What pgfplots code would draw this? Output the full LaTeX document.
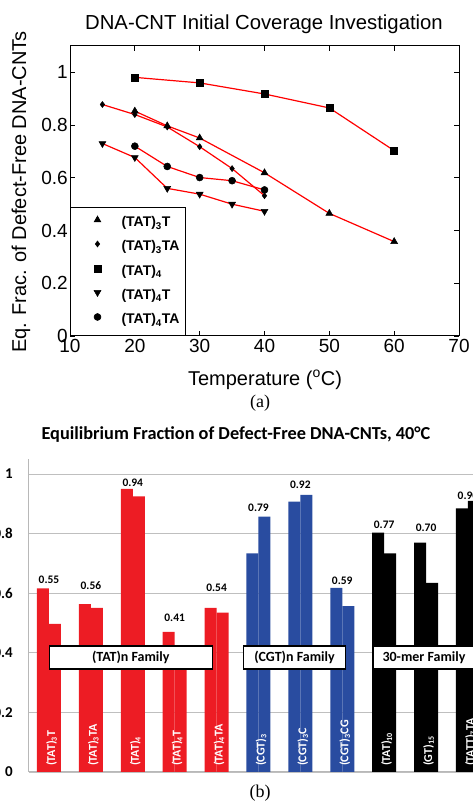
\documentclass[border=0pt]{standalone}
\usepackage{fontspec}
\setmainfont{Liberation Sans}
\newfontfamily\calibri{Carlito}
\newfontfamily\lserif{Liberation Serif}
\usepackage{pgfplots}
\pgfplotsset{compat=1.18}
\definecolor{exred}{RGB}{237,28,36}
\definecolor{exblue}{RGB}{41,76,160}
\definecolor{mred}{RGB}{255,0,0}
\begin{document}
\begin{tikzpicture}[x=1pt,y=1pt]
% ---------------- panel (a)
\begin{axis}[at={(70pt,469pt)}, anchor=south west, scale only axis,
  width=389pt, height=290pt,
  xmin=10, xmax=70, ymin=0, ymax=1.1,
  xtick={10,20,30,40,50,60,70}, ytick={0,0.2,0.4,0.6,0.8,1},
  /pgf/number format/assume math mode=true,
  tick label style={font=\fontsize{19}{19}\selectfont},
  yticklabel style={inner sep=2pt},
  major tick length=5pt, tick style={black, line width=0.8pt},
  axis line style={line width=1pt},
  legend style={at={(0,0)}, anchor=south west, draw=black, line width=1pt,
    inner xsep=6pt, inner ysep=8.5pt, row sep=11pt, column sep=15pt,
    font=\bfseries\fontsize{14}{14}\selectfont,
    nodes={inner sep=0pt, text height=10pt, text depth=3pt}},
  legend cell align=left,
  legend image code/.code={\path[draw=none, fill=none] (0pt,-4pt) rectangle (30pt,4pt);
    \path[draw=black, fill=black, line width=0.5pt, #1] plot coordinates {(21pt,3.5pt)};},
]
\addplot[mred, line width=1.2pt, mark=triangle*, mark size=4pt, mark options={black, fill=black, line width=0.5pt}, forget plot]
  coordinates {(20,0.853)(25,0.797)(30,0.751)(40,0.619)(50,0.465)(60,0.358)};
\addplot[mred, line width=1.2pt, mark=diamond*, mark size=3pt, mark options={black, fill=black, line width=0.5pt}, forget plot]
  coordinates {(15,0.878)(20,0.840)(25,0.793)(30,0.718)(35,0.635)(40,0.532)};
\addplot[mred, line width=1.2pt, mark=square*, mark size=3.5pt, mark options={black, fill=black, line width=0.5pt}, forget plot]
  coordinates {(20,0.981)(30,0.960)(40,0.918)(50,0.865)(60,0.703)};
\addplot[mred, line width=1.2pt, mark=triangle*, mark size=4pt, mark options={black, fill=black, line width=0.5pt, rotate=180}, forget plot]
  coordinates {(15,0.730)(20,0.677)(25,0.560)(30,0.538)(35,0.500)(40,0.473)};
\addplot[mred, line width=1.2pt, mark=*, mark size=3.5pt, mark options={black, fill=black, line width=0.5pt}, forget plot]
  coordinates {(20,0.720)(25,0.643)(30,0.601)(35,0.589)(40,0.554)};
\addlegendimage{mark=triangle*, mark size=4pt}
\addlegendentry{(TAT)\textsubscript{3}T}
\addlegendimage{mark=diamond*, mark size=3pt}
\addlegendentry{(TAT)\textsubscript{3}TA}
\addlegendimage{mark=square*, mark size=3.5pt}
\addlegendentry{(TAT)\textsubscript{4}}
\addlegendimage{mark=triangle*, mark size=4pt, mark options={rotate=180}}
\addlegendentry{(TAT)\textsubscript{4}T}
\addlegendimage{mark=*, mark size=3.5pt}
\addlegendentry{(TAT)\textsubscript{4}TA}
\end{axis}
\node[font=\fontsize{20.3}{20.3}\selectfont] at (264pt,781pt) {DNA-CNT Initial Coverage Investigation};
\node[font=\fontsize{20}{20}\selectfont, rotate=90] at (21pt,613pt) {Eq. Frac. of Defect-Free DNA-CNTs};
\node[font=\fontsize{20}{20}\selectfont] at (265pt,425pt) {Temperature (\textsuperscript{o}C)};
\node[font=\lserif\fontsize{18}{18}\selectfont] at (260pt,402pt) {(a)};
% ---------------- panel (b)
\node[font=\calibri\bfseries\fontsize{18.3}{18.3}\selectfont] at (236pt,370pt) {Equilibrium Fraction of Defect-Free DNA-CNTs, 40°C};
\begin{axis}[at={(29pt,33pt)}, anchor=south west, scale only axis,
  width=464.1pt, height=312.9pt,
  xmin=-0.477, xmax=10.6, ymin=0, ymax=1.05,
  axis x line*=bottom, axis y line*=left,
  axis line style={draw=black!28, line width=1pt},
  xtick=\empty, ytick={0,0.2,0.4,0.6,0.8,1},
  ymajorgrids, grid style={black!25, line width=0.8pt},
  major tick length=0pt,
  /pgf/number format/assume math mode=true,
  yticklabel style={font=\calibri\bfseries\fontsize{15}{15}\selectfont, anchor=east, inner sep=0pt, xshift=-16pt},
  clip=false,
]
\addplot[ybar, bar width=12pt, bar shift=-6pt, fill=exred, draw=none]
  coordinates {(0,0.616)(1,0.563)(2,0.950)(3,0.470)(4,0.551)};
\addplot[ybar, bar width=12pt, bar shift=6pt, fill=exred, draw=none]
  coordinates {(0,0.497)(1,0.551)(2,0.925)(3,0.350)(4,0.535)};
\addplot[ybar, bar width=12pt, bar shift=-6pt, fill=exblue, draw=none]
  coordinates {(5,0.734)(6,0.907)(7,0.618)};
\addplot[ybar, bar width=12pt, bar shift=6pt, fill=exblue, draw=none]
  coordinates {(5,0.857)(6,0.930)(7,0.557)};
\addplot[ybar, bar width=12pt, bar shift=-6pt, fill=black, draw=none]
  coordinates {(8,0.803)(9,0.770)(10,0.885)};
\addplot[ybar, bar width=12pt, bar shift=6pt, fill=black, draw=none]
  coordinates {(8,0.734)(9,0.635)(10,0.910)};
\addplot[draw=none, mark=none, nodes near coords, point meta=explicit symbolic,
  every node near coord/.append style={anchor=center, inner sep=0pt, font=\calibri\bfseries\fontsize{11.5}{11.5}\selectfont}]
  table[meta=lab] {
x y lab
0 0.646 0.55
1 0.624 0.56
2 0.971 0.94
3 0.518 0.41
4 0.618 0.54
5 0.885 0.79
6 0.963 0.92
7 0.642 0.59
8 0.829 0.77
9 0.820 0.70
10 0.926 0.90
};
\addplot[draw=none, mark=none, nodes near coords, point meta=explicit symbolic,
  every node near coord/.append style={rotate=90, anchor=west, inner sep=0pt, text=white, font=\calibri\bfseries\fontsize{12}{12}\selectfont}]
  coordinates {(0.06,0.02) [{(TAT)\textsubscript{3}T}] (1.06,0.02) [{(TAT)\textsubscript{3}TA}] (2.06,0.02) [{(TAT)\textsubscript{4}}]
   (3.06,0.02) [{(TAT)\textsubscript{4}T}] (4.06,0.02) [{(TAT)\textsubscript{4}TA}]
   (5.06,0.02) [{(CGT)\textsubscript{3}}] (6.06,0.02) [{(CGT)\textsubscript{3}C}] (7.06,0.02) [{(CGT)\textsubscript{3}CG}]
   (8.06,0.02) [{(TAT)\textsubscript{10}}] (9.06,0.02) [{(GT)\textsubscript{15}}] (10.06,0.02) [{(TATT)\textsubscript{7}TA}]};
\node[draw=black, line width=1.5pt, fill=white, minimum width=163pt, minimum height=23pt, inner sep=0pt, font=\calibri\bfseries\fontsize{14}{14}\selectfont]
  at (axis cs:1.952,0.384) {(TAT)n Family};
\node[draw=black, line width=1.5pt, fill=white, minimum width=102pt, minimum height=23pt, inner sep=0pt, font=\calibri\bfseries\fontsize{14}{14}\selectfont]
  at (axis cs:5.859,0.384) {(CGT)n Family};
\node[draw=black, line width=1.5pt, fill=white, minimum width=102pt, minimum height=23pt, inner sep=0pt, font=\calibri\bfseries\fontsize{14}{14}\selectfont]
  at (axis cs:8.95,0.384) {30-mer Family};
\end{axis}
\node[font=\lserif\fontsize{18}{18}\selectfont] at (260pt,12pt) {(b)};
\pgfresetboundingbox
\path[use as bounding box] (0pt,0pt) rectangle (472pt,805pt);
\end{tikzpicture}
\end{document}
